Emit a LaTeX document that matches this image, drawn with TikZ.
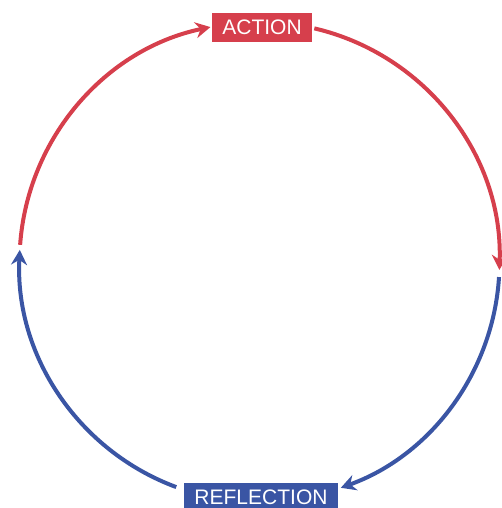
\documentclass[tikz,border=0pt]{standalone}
\usepackage{fontspec}
\setmainfont{Liberation Sans}
\usetikzlibrary{arrows.meta,calc}
\definecolor{actred}{HTML}{D63F4C}
\definecolor{refblue}{HTML}{3A55A4}
\tikzset{stagebox/.style={text=white,inner xsep=10pt,minimum height=29pt,font=\fontsize{21}{25}\selectfont},
 cyc/.style={line width=4pt,-{Stealth[length=15pt,width=16pt,inset=5pt]}}}
\begin{document}
\begin{tikzpicture}[x=1pt,y=1pt]
\useasboundingbox (0,0) rectangle (502,508);
\coordinate (c) at (259.5,246);
\node[stagebox,fill=actred] (act) at (262,480.5) {ACTION};
\node[stagebox,fill=refblue] (refl) at (261,10.5) {REFLECTION};
% where the arcs leave the circle
\coordinate (wtop) at ($(c)+(175.9:240)$);
\coordinate (etop) at ($(c)+(76.8:240)$);
\coordinate (ebot) at ($(c)+(-3.6:240)$);
\coordinate (wbot) at ($(c)+(-110.3:240)$);
\draw[cyc,actred] (wtop) arc[start angle=175.9,end angle=101.8,radius=240];
\draw[cyc,actred] (etop) arc[start angle=76.8,end angle=-1.9,radius=240];
\draw[cyc,refblue] (ebot) arc[start angle=-3.6,end angle=-70.2,radius=240];
\draw[cyc,refblue] (wbot) arc[start angle=-110.3,end angle=-182.9,radius=240];
\end{tikzpicture}
\end{document}
